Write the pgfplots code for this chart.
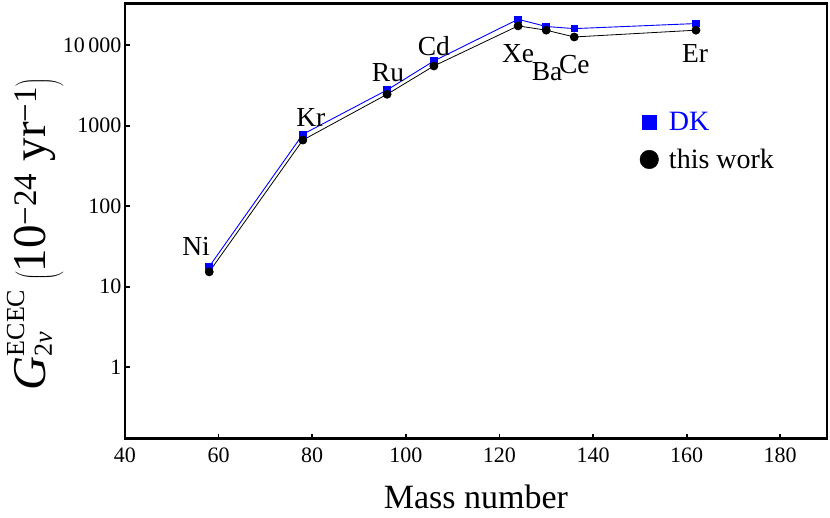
\documentclass[border=0pt]{standalone}
\usepackage{fontspec}
\setmainfont{Liberation Serif}
\usepackage{pgfplots}
\pgfplotsset{compat=1.18}

\begin{document}
\begin{tikzpicture}
\begin{axis}[
  scale only axis, width=702pt, height=435.4pt,
  xmin=40, xmax=190, ymode=log, ymin=0.13, ymax=33000,
  xtick={40,60,...,180},
  ytick={1,10,100,1000,10000},
  yticklabels={1,10,100,1000,10\,000},
  xminorticks=false, yminorticks=false,
  axis line style={line width=2.6pt},
  tick style={line width=1.8pt, black},
  major tick length=5pt, tick align=inside,
  xtick pos=lower, ytick pos=left,
  tick label style={font=\fontsize{22}{26}\selectfont},
  xticklabel style={yshift=-6pt},
  /pgf/number format/assume math mode=true,
  xlabel={Mass number},
  xlabel style={font=\fontsize{34}{40}\selectfont, at={(axis description cs:0.5,-0.161)}, anchor=base},
  ylabel={$\mbox{\itshape G}^{\mbox{\fontsize{26}{28}\selectfont ECEC}}_{\mbox{\fontsize{26}{28}\selectfont 2\itshape ν}}\,\left(\mbox{10\textsuperscript{−24} yr\textsuperscript{−1}}\right)$},
  ylabel style={font=\fontsize{47}{50}\selectfont, at={(axis description cs:-0.128,0.47)}, anchor=center, rotate=0},
  legend image code/.code={\path (2.7pt,0pt) (29.5pt,0pt); \draw[mark repeat=2,mark phase=2,#1] plot coordinates {(0pt,0pt) (12pt,0pt) (24pt,0pt)};},
  legend style={at={(axis description cs:0.733,0.755)}, anchor=north west, draw=none, fill=none,
    font=\fontsize{28}{33}\selectfont, inner sep=0pt, row sep=13pt},
  legend cell align=left,
]
\addplot[blue, line width=0.9pt, mark=square*, mark size=3.3pt, forget plot] coordinates {
 (58,17.8) (78,780) (96,2770) (106,6350) (124,20900) (130,17000) (136,16000) (162,18500)};
\addplot[black, line width=0.8pt, mark=*, mark size=4pt, forget plot] coordinates {
 (58,15.3) (78,662) (96,2450) (106,5500) (124,17300) (130,15300) (136,12600) (162,15300)};
\addlegendimage{only marks, mark=square*, blue, mark size=7pt}
\addlegendentry{\textcolor{blue}{DK}}
\addlegendimage{only marks, mark=*, black, mark size=9.3pt}
\addlegendentry{this work}
\begin{scope}[every node/.style={font=\fontsize{27.5}{30}\selectfont}]
\node at (axis cs:55.2,32) {Ni};
\node at (axis cs:79.7,1250) {Kr};
\node at (axis cs:96.2,4590) {Ru};
\node at (axis cs:106,9800) {Cd};
\node at (axis cs:124,7800) {Xe};
\node at (axis cs:130.2,4660) {Ba};
\node at (axis cs:136,5700) {Ce};
\node at (axis cs:161.8,7800) {Er};
\end{scope}
\end{axis}
\pgfresetboundingbox
\path[use as bounding box] ([xshift=-125pt,yshift=-79.3pt]current axis.south west) rectangle ([xshift=3pt,yshift=3.3pt]current axis.north east);
\end{tikzpicture}
\end{document}
